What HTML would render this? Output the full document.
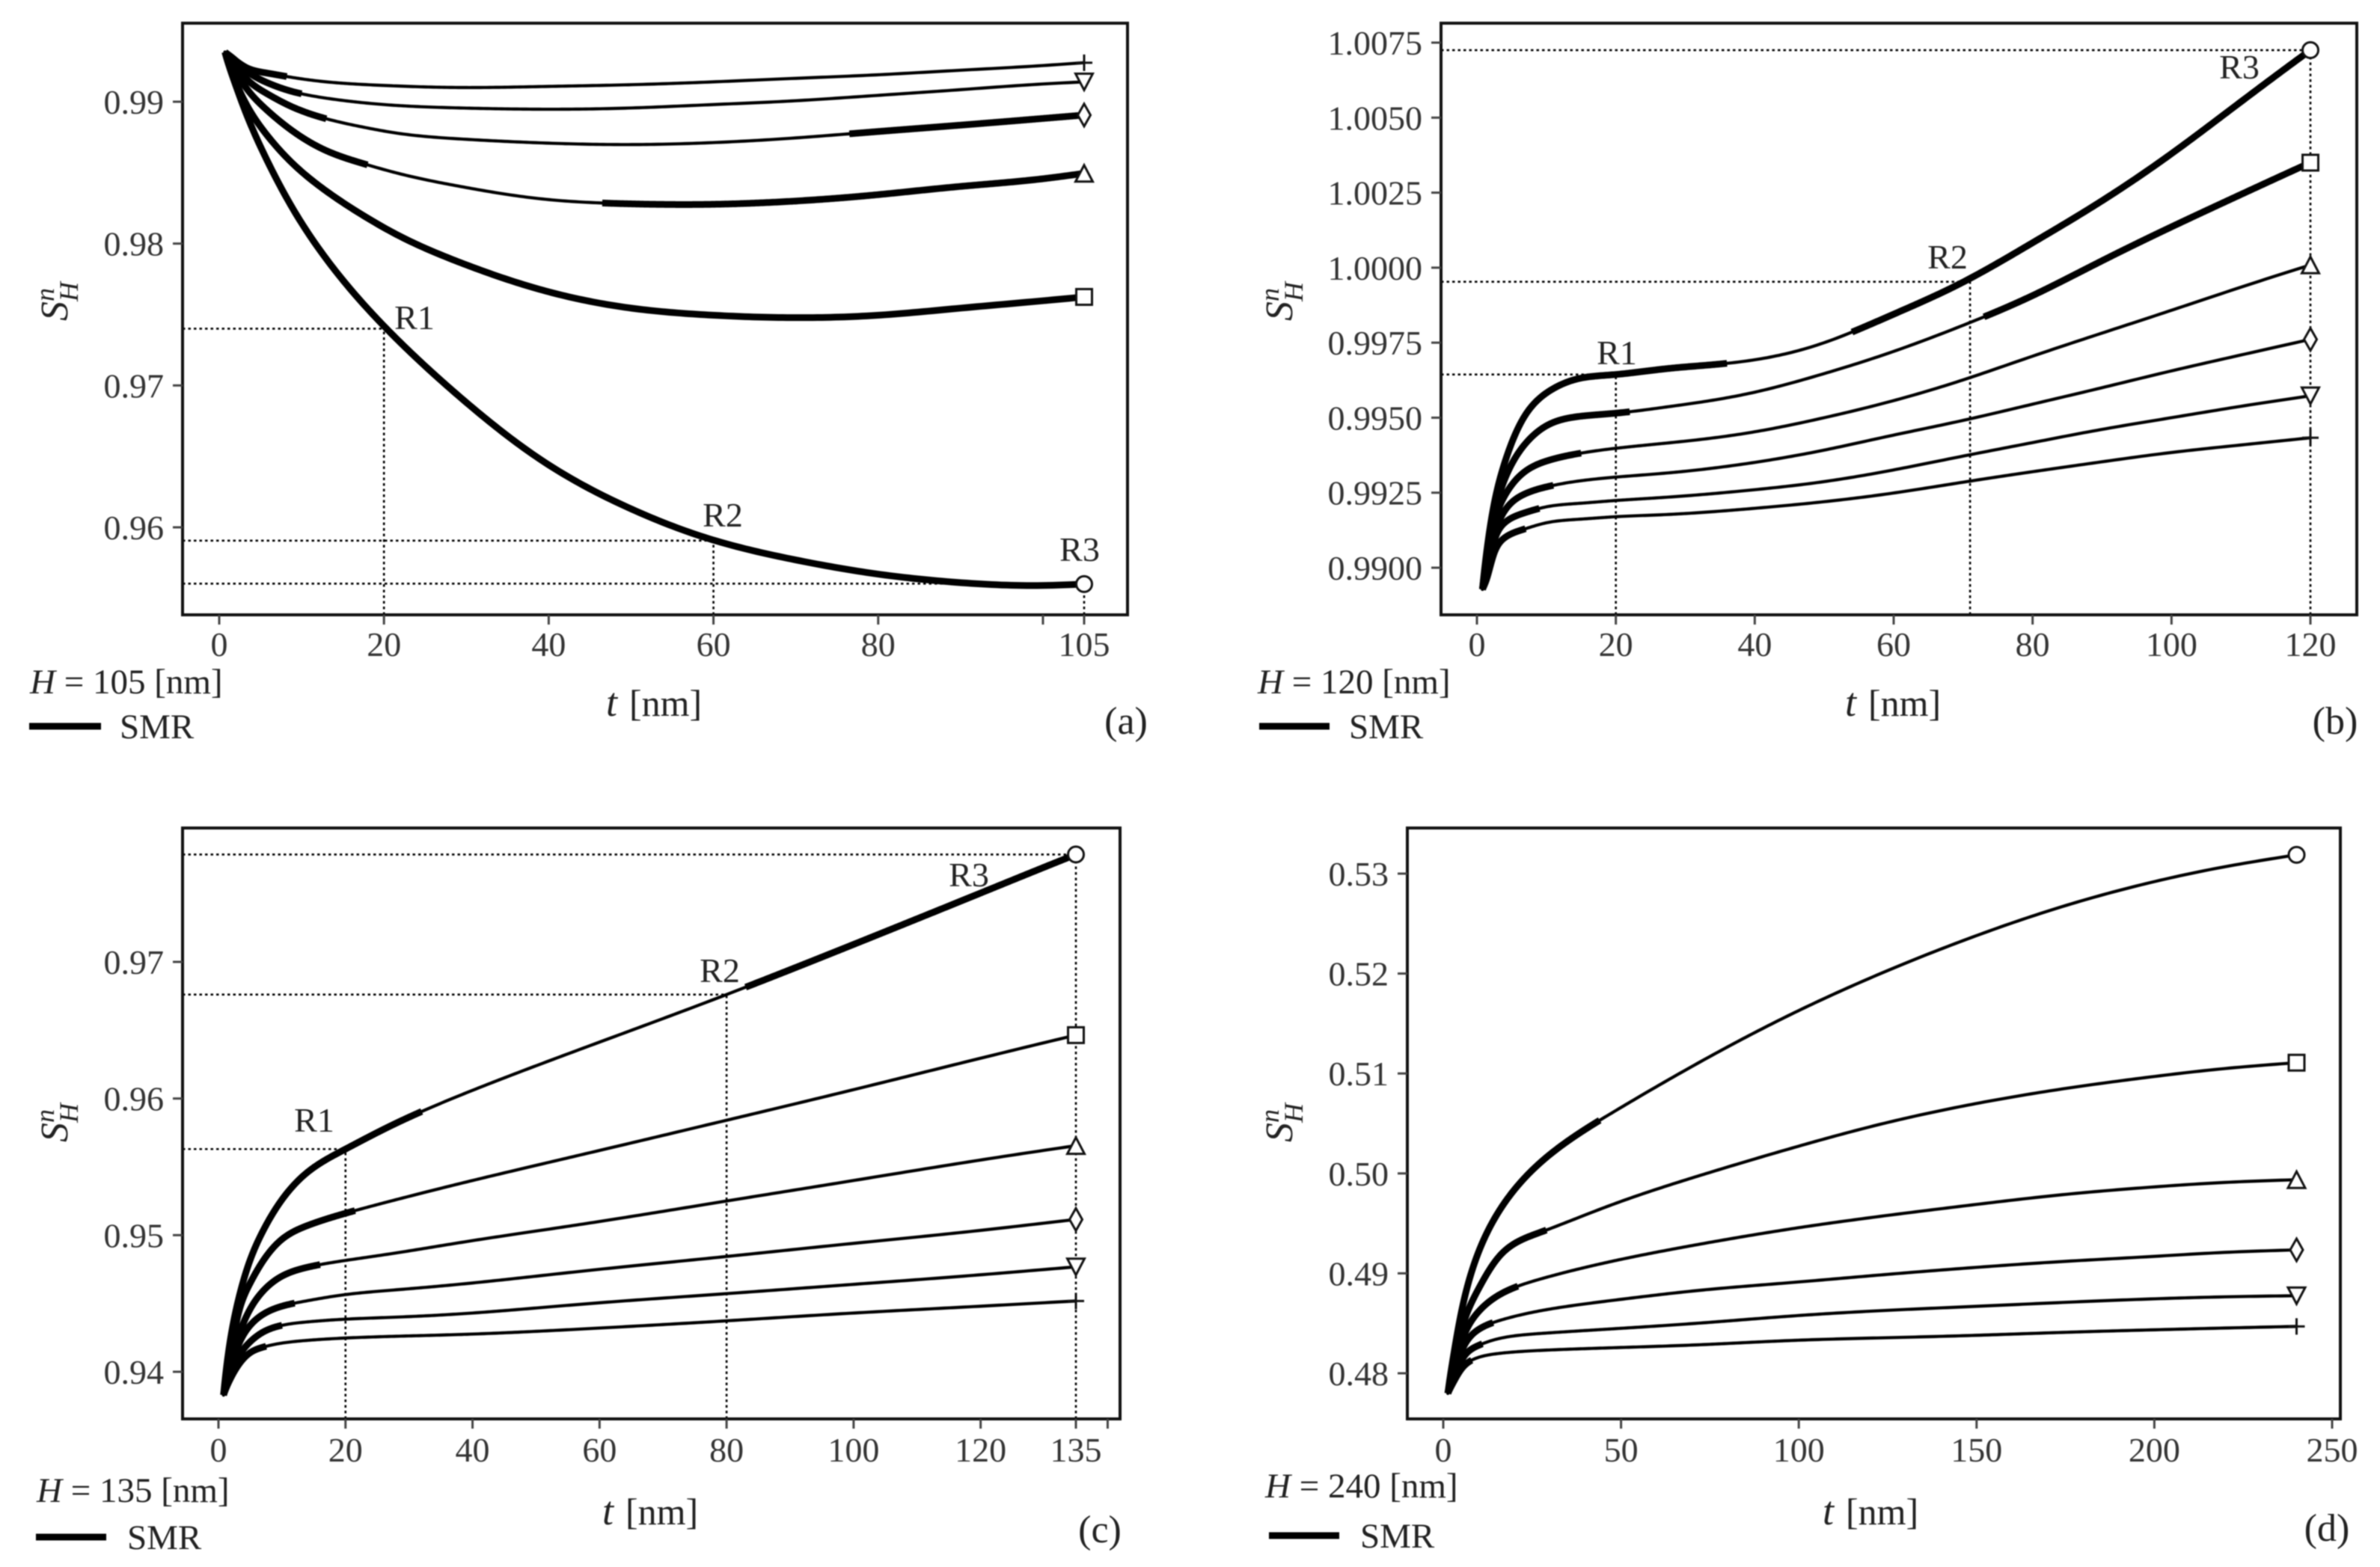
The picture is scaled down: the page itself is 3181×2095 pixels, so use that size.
<!DOCTYPE html>
<html lang="en">
<head>
<meta charset="utf-8">
<title>Normalised stiffness curves for four heights</title>
<style>
html,body{margin:0;padding:0;background:#fff;}
svg{display:block;filter:blur(0.8px);}
text{font-family:"Liberation Serif",serif;fill:#222;}
.lbl{font-size:47px;}
.tick{font-size:46px;fill:#333;}
.rl{font-size:46px;}
.ax{font-size:50px;}
.tag{font-size:52px;}
.ttl{font-size:54px;font-style:italic;}
.i{font-style:italic;}
</style>
</head>
<body>
<svg xmlns="http://www.w3.org/2000/svg" id="figure" width="3181" height="2095" viewBox="0 0 3181 2095">
<rect width="3181" height="2095" fill="#fff"/>

<g id="panel-a">
  <text class="rl" x="554" y="440" text-anchor="middle">R1</text>
  <text class="rl" x="966" y="704" text-anchor="middle">R2</text>
  <text class="rl" x="1443" y="750" text-anchor="middle">R3</text>
  <text transform="translate(90,429) rotate(-90)"><tspan class="i" font-size="52">S</tspan><tspan class="i" font-size="36" dy="14">H</tspan><tspan class="i" font-size="36" dx="-26" dy="-32">n</tspan></text>
  <text x="810" y="957"><tspan class="ttl">t</tspan><tspan class="ax" dx="16">[nm]</tspan></text>
  <text class="lbl" x="40" y="927"><tspan class="i">H</tspan> = 105 [nm]</text>
  <line x1="39" x2="135" y1="971" y2="971" stroke="#000" stroke-width="9"/>
  <text class="lbl" x="160" y="987">SMR</text>
  <text class="tag" x="1505" y="981" text-anchor="middle">(a)</text>
</g>

<g id="panel-b">
  <text class="rl" x="2161" y="487" text-anchor="middle">R1</text>
  <text class="rl" x="2603" y="359" text-anchor="middle">R2</text>
  <text class="rl" x="2993" y="105" text-anchor="middle">R3</text>
  <text transform="translate(1727,429) rotate(-90)"><tspan class="i" font-size="52">S</tspan><tspan class="i" font-size="36" dy="14">H</tspan><tspan class="i" font-size="36" dx="-26" dy="-32">n</tspan></text>
  <text x="2466" y="957"><tspan class="ttl">t</tspan><tspan class="ax" dx="16">[nm]</tspan></text>
  <text class="lbl" x="1681" y="927"><tspan class="i">H</tspan> = 120 [nm]</text>
  <line x1="1683" x2="1777" y1="971" y2="971" stroke="#000" stroke-width="9"/>
  <text class="lbl" x="1803" y="987">SMR</text>
  <text class="tag" x="3121" y="981" text-anchor="middle">(b)</text>
</g>

<g id="panel-c">
  <text class="rl" x="420" y="1513" text-anchor="middle">R1</text>
  <text class="rl" x="962" y="1313" text-anchor="middle">R2</text>
  <text class="rl" x="1295" y="1185" text-anchor="middle">R3</text>
  <text transform="translate(90,1527) rotate(-90)"><tspan class="i" font-size="52">S</tspan><tspan class="i" font-size="36" dy="14">H</tspan><tspan class="i" font-size="36" dx="-26" dy="-32">n</tspan></text>
  <text x="805" y="2038"><tspan class="ttl">t</tspan><tspan class="ax" dx="16">[nm]</tspan></text>
  <text class="lbl" x="49" y="2008"><tspan class="i">H</tspan> = 135 [nm]</text>
  <line x1="48" x2="142" y1="2055" y2="2055" stroke="#000" stroke-width="9"/>
  <text class="lbl" x="170" y="2071">SMR</text>
  <text class="tag" x="1470" y="2062" text-anchor="middle">(c)</text>
</g>

<g id="panel-d">
  <text transform="translate(1727,1527) rotate(-90)"><tspan class="i" font-size="52">S</tspan><tspan class="i" font-size="36" dy="14">H</tspan><tspan class="i" font-size="36" dx="-26" dy="-32">n</tspan></text>
  <text x="2436" y="2038"><tspan class="ttl">t</tspan><tspan class="ax" dx="16">[nm]</tspan></text>
  <text class="lbl" x="1691" y="2002"><tspan class="i">H</tspan> = 240 [nm]</text>
  <line x1="1696" x2="1790" y1="2053" y2="2053" stroke="#000" stroke-width="9"/>
  <text class="lbl" x="1818" y="2069">SMR</text>
  <text class="tag" x="3110" y="2060" text-anchor="middle">(d)</text>
</g>
</svg>

<script>
// ---------- Panel (a) H = 105 ----------
const aT = [0.7,2,3.5,6,9,13,18,22,30,40,50,60,70,80,90,100,105];
const aCircle = [.9935,.99116,.98884,.98564,.9824,.97892,.97542,.97302,.9688,.9644,.9613,.9591,.9577,.9567,.9561,.9559,.9560];
const aSquare = [.9935,.9914,.9896,.9875,.9856,.9837,.9818,.9805,.9785,.9766,.97545,.97495,.97478,.97495,.97545,.97597,.97624];
const aTriangle = [.9935,.9921,.9908,.9893,.9879,.98655,.98555,.98491,.98395,.9831,.9828,.98277,.983,.98345,.98403,.98457,.98495];
const aDiamond = [.9935,.9925,.9915,.9905,.9896,.9888,.98815,.98775,.98735,.98708,.98698,.98712,.98745,.9879,.98835,.98882,.98906];
const aTriDown = [.9935,.9929,.9921,.9913,.9907,.99025,.9899,.98972,.98955,.98947,.98956,.9898,.99007,.99045,.99085,.99125,.9914];
const aPlus = [.9935,.9929,.99235,.9920,.9917,.9914,.9912,.9911,.9910,.99108,.9912,.9914,.99165,.9919,.99222,.99255,.99275];
const aXTicks = [0,20,40,60,80,100,105];
const aXLabels = ['0','20','40','60','80','','105'];
const aYTicks = [.99,.98,.97,.96];
const aYLabels = ['0.99','0.98','0.97','0.96'];
const aRefT = [20,60,105];
const aRefV = [.974,.95906,.95603];
const aThick = [[[0.7,105]],[[0.7,105]],[[0.7,18],[46.5,105]],[[0.7,13],[76.5,105]],[[0.7,10]],[[0.7,8.2]]];

// ---------- Panel (b) H = 120 ----------
const bT = [.8,1.5,2.5,4,7,10.5,15,20,28,40,50,60,70,80,90,100,110,120];
const bCircle = [.98928,.9907,.99215,.9935,.9951,.9959,.99632,.99644,.99665,.99693,.9975,.99845,.99952,1.00083,1.00223,1.0038,1.00553,1.00725];
const bSquare = [.98928,.9905,.9918,.99295,.99414,.99479,.99505,.99515,.99538,.99585,.99647,.99721,.99808,.99907,1.00023,1.00136,1.00244,1.0035];
const bTriangle = [.98928,.9903,.9915,.9924,.99322,.99359,.99382,.99398,.99417,.99453,.995,.99557,.99626,.99705,.99782,.99858,.99935,1.00009];
const bDiamond = [.98928,.9901,.9911,.9919,.99247,.99272,.9929,.99302,.99317,.99351,.99392,.99442,.99491,.99545,.996,.99656,.99709,.99761];
const bTriDown = [.98928,.9899,.9909,.9915,.99184,.99205,.99215,.99224,.99236,.9926,.99287,.99326,.99372,.99417,.99461,.995,.99538,.99573];
const bPlus = [.98928,.9897,.9905,.9910,.9913,.99152,.99162,.9917,.99178,.99198,.9922,.99249,.99285,.9932,.99353,.99384,.99409,.99433];
const bXTicks = [0,20,40,60,80,100,120];
const bXLabels = ['0','20','40','60','80','100','120'];
const bYTicks = [1.0075,1.005,1.0025,1,.9975,.995,.9925,.99];
const bYLabels = ['1.0075','1.0050','1.0025','1.0000','0.9975','0.9950','0.9925','0.9900'];
const bRefT = [20,71,120];
const bRefV = [.99644,.99953,1.00725];
const bThick = [[[.8,36],[54,120]],[[.8,22],[73,120]],[[.8,15]],[[.8,11]],[[.8,9]],[[.8,7]]];

// ---------- Panel (c) H = 135 ----------
const cT = [.8,2,3,5,7,10,14,20,28,40,60,80,100,120,135];
const cCircle = [.9383,.9427,.9450,.9482,.9503,.9526,.9546,.9563,.9582,.9606,.96413,.96761,.97128,.97504,.97786];
const cSquare = [.9383,.9415,.9440,.9465,.9481,.9497,.9507,.9516,.9526,.954,.9562,.95841,.96065,.96295,.96464];
const cTriangle = [.9383,.9408,.9424,.9446,.9459,.9470,.94765,.94815,.9487,.9496,.9510,.9525,.9540,.9555,.95655];
const cDiamond = [.9383,.9404,.9418,.9434,.9442,.9448,.9452,.94565,.9460,.9465,.9475,.94844,.9494,.95035,.95115];
const cTriDown = [.9383,.9400,.9410,.9422,.9429,.9434,.94365,.94385,.9440,.9443,.94505,.94572,.9464,.9471,.94768];
const cPlus = [.9383,.9396,.9404,.9414,.9418,.9421,.9423,.94247,.9426,.94276,.9432,.94373,.9443,.9448,.94518];
const cXTicks = [0,20,40,60,80,100,120,135,140];
const cXLabels = ['0','20','40','60','80','100','120','135',''];
const cYTicks = [.97,.96,.95,.94];
const cYLabels = ['0.97','0.96','0.95','0.94'];
const cRefT = [20,80,135];
const cRefV = [.9563,.96761,.97786];
const cThick = [[[.8,32],[83,135]],[[.8,21.5]],[[.8,16]],[[.8,12]],[[.8,10]],[[.8,7.5]]];

// ---------- Panel (d) H = 240 ----------
const dT = [1.3,3,5.5,10,16,28,50,75,100,125,150,175,200,220,240];
const dCircle = [.4780,.4820,.4868,.4922,.4964,.5013,.5066,.5117,.5163,.5203,.5238,.5268,.5292,.5307,.53188];
const dSquare = [.4780,.4811,.4848,.4885,.4918,.4942,.4972,.5001,.50273,.5051,.5070,.5085,.5097,.5105,.51108];
const dTriangle = [.4780,.4805,.4835,.4862,.4879,.4895,.4914,.4931,.49457,.4958,.4969,.4979,.49865,.4991,.49937];
const dDiamond = [.4780,.4800,.4825,.4844,.4853,.4863,.4874,.4884,.48914,.4899,.4906,.4912,.4917,.4921,.49235];
const dTriDown = [.4780,.4795,.4815,.4828,.4835,.4840,.4845,.4851,.48578,.4863,.4867,.4871,.48745,.48765,.48776];
const dPlus = [.4780,.4792,.4806,.4816,.4820,.4823,.48258,.4829,.48331,.48356,.4838,.4841,.48435,.48453,.48469];
const dXTicks = [0,50,100,150,200,250];
const dXLabels = ['0','50','100','150','200','250'];
const dYTicks = [.53,.52,.51,.5,.49,.48];
const dYLabels = ['0.53','0.52','0.51','0.50','0.49','0.48'];
const dRefT = [];
const dRefV = [];
const dThick = [[[1.3,44]],[[1.3,29]],[[1.3,21]],[[1.3,14]],[[1.3,11]],[[1.3,8]]];

const markerKinds = ['circle','square','triangle','diamond','triangle-down','plus'];

// Axis geometry: plot frame, two calibration anchors per axis, tick-label baseline
const panels = [
  {id:'a',ts:aT,series:[aCircle,aSquare,aTriangle,aDiamond,aTriDown,aPlus],thick:aThick,xT:aXTicks,xL:aXLabels,yT:aYTicks,yL:aYLabels,refT:aRefT,refV:aRefV,
   f:{l:244,r:1507,t:31,b:822},xa:[0,293,105,1449],ya:[.99,136,.96,705],xb:877},
  {id:'b',ts:bT,series:[bCircle,bSquare,bTriangle,bDiamond,bTriDown,bPlus],thick:bThick,xT:bXTicks,xL:bXLabels,yT:bYTicks,yL:bYLabels,refT:bRefT,refV:bRefV,
   f:{l:1926,r:3150,t:31,b:822},xa:[0,1974,120,3088],ya:[1.0075,57,.99,759],xb:877},
  {id:'c',ts:cT,series:[cCircle,cSquare,cTriangle,cDiamond,cTriDown,cPlus],thick:cThick,xT:cXTicks,xL:cXLabels,yT:cYTicks,yL:cYLabels,refT:cRefT,refV:cRefV,
   f:{l:244,r:1497,t:1107,b:1897},xa:[0,292,135,1438],ya:[.97,1286,.94,1834],xb:1954},
  {id:'d',ts:dT,series:[dCircle,dSquare,dTriangle,dDiamond,dTriDown,dPlus],thick:dThick,xT:dXTicks,xL:dXLabels,yT:dYTicks,yL:dYLabels,refT:dRefT,refV:dRefV,
   f:{l:1881,r:3128,t:1107,b:1897},xa:[0,1929,250,3117],ya:[.53,1168,.48,1836],xb:1954}
];

const NS = 'http://www.w3.org/2000/svg';
function make(tag, attrs, parent){
  const n = document.createElementNS(NS, tag);
  for (const k in attrs) n.setAttribute(k, attrs[k]);
  parent.appendChild(n);
  return n;
}
function scale(a){
  const m = (a[3]-a[1])/(a[2]-a[0]);
  return v => a[1] + (v-a[0])*m;
}
// Natural cubic spline through the read-off samples, in sqrt(t) space
function buildSpline(ts, vs){
  const u = ts.map(Math.sqrt), n = u.length;
  const a=new Array(n).fill(0), b=new Array(n).fill(1), c=new Array(n).fill(0), r=new Array(n).fill(0);
  for (let i=1;i<n-1;i++){
    const h0=u[i]-u[i-1], h1=u[i+1]-u[i];
    a[i]=h0; b[i]=2*(h0+h1); c[i]=h1;
    r[i]=6*((vs[i+1]-vs[i])/h1-(vs[i]-vs[i-1])/h0);
  }
  for (let i=1;i<n;i++){
    const m=a[i]/b[i-1];
    b[i]-=m*c[i-1];
    r[i]-=m*r[i-1];
  }
  const M=new Array(n).fill(0);
  M[n-1]=r[n-1]/b[n-1];
  for (let i=n-2;i>=0;i--) M[i]=(r[i]-c[i]*M[i+1])/b[i];
  return function(t){
    const x=Math.sqrt(t);
    let i=0;
    while (i<n-2 && x>u[i+1]) i++;
    const h=u[i+1]-u[i], A=(u[i+1]-x)/h, B=(x-u[i])/h;
    return A*vs[i]+B*vs[i+1]+((A*A*A-A)*M[i]+(B*B*B-B)*M[i+1])*h*h/6;
  };
}
function curvePath(fn, a, b, X, Y){
  const N=300, ua=Math.sqrt(a), ub=Math.sqrt(b);
  let p='';
  for (let k=0;k<=N;k++){
    const u=ua+(ub-ua)*k/N, t=u*u;
    p+=(k?'L':'M')+X(t).toFixed(2)+' '+Y(fn(t)).toFixed(2);
  }
  return p;
}
function drawMarker(kind, x, y, g){
  let n;
  const st={fill:'#fff',stroke:'#111','stroke-width':3};
  if (kind==='circle') n=make('circle',Object.assign({cx:x,cy:y,r:10.5},st),g);
  else if (kind==='square') n=make('rect',Object.assign({x:x-10.5,y:y-10.5,width:21,height:21},st),g);
  else if (kind==='triangle') n=make('path',Object.assign({d:`M${x} ${y-11}L${x+11.5} ${y+11}L${x-11.5} ${y+11}Z`},st),g);
  else if (kind==='triangle-down') n=make('path',Object.assign({d:`M${x} ${y+11}L${x+11.5} ${y-11}L${x-11.5} ${y-11}Z`},st),g);
  else if (kind==='diamond') n=make('path',Object.assign({d:`M${x} ${y-15}L${x+8.5} ${y}L${x} ${y+15}L${x-8.5} ${y}Z`},st),g);
  else n=make('path',{d:`M${x-11} ${y}H${x+11}M${x} ${y-11}V${y+11}`,fill:'none',stroke:'#111','stroke-width':3},g);
  return n;
}

panels.forEach(function(P){
  const root = document.getElementById('panel-'+P.id);
  const X = scale(P.xa), Y = scale(P.ya), f = P.f;
  const plot = make('g',{},root);
  
  

  // reference dotted lines
  P.refT.forEach(function(t,i){
    const v = P.refV[i];
    const h = make('line',{x1:f.l,x2:X(t),y1:Y(v),y2:Y(v),stroke:'#000','stroke-width':2.6,'stroke-dasharray':'3.5 4'},plot);
    
    
    const w = make('line',{x1:X(t),x2:X(t),y1:f.b,y2:Y(v),stroke:'#000','stroke-width':2.6,'stroke-dasharray':'3.5 4'},plot);
    
    
  });

  // curves
  P.series.forEach(function(vs,i){
    const fn = buildSpline(P.ts,vs), kind = markerKinds[i];
    const tFirst = P.ts[0], tLast = P.ts[P.ts.length-1];
    const thin = make('path',{d:curvePath(fn,tFirst,tLast,X,Y),fill:'none',stroke:'#000','stroke-width':4.2,'stroke-linecap':'round'},plot);
    
    
    P.thick[i].forEach(function(r,j){
      const th = make('path',{d:curvePath(fn,r[0],r[1],X,Y),fill:'none',stroke:'#000','stroke-width':9,'stroke-linecap':'butt'},plot);
      
      
    });
  });
  P.series.forEach(function(vs,i){
    const m = drawMarker(markerKinds[i], X(P.ts[P.ts.length-1]), Y(vs[vs.length-1]), plot);
    
    
  });

  // frame
  const fr = make('rect',{x:f.l,y:f.t,width:f.r-f.l,height:f.b-f.t,fill:'none',stroke:'#111','stroke-width':4},root);
  
  

  // ticks
  P.xT.forEach(function(t,i){
    const k = make('line',{x1:X(t),x2:X(t),y1:f.b,y2:f.b+13,stroke:'#444','stroke-width':3},root);
    
    
    if (P.xL[i]){
      const l = make('text',{x:X(t),y:P.xb,'text-anchor':'middle',class:'tick'},root);
      l.textContent = P.xL[i];
      
      
    }
  });
  P.yT.forEach(function(v,i){
    const k = make('line',{x1:f.l-13,x2:f.l,y1:Y(v),y2:Y(v),stroke:'#444','stroke-width':3},root);
    
    
    const l = make('text',{x:f.l-25,y:Y(v)+16,'text-anchor':'end',class:'tick'},root);
    l.textContent = P.yL[i];
    
    
  });
});
</script>
</body>
</html>
